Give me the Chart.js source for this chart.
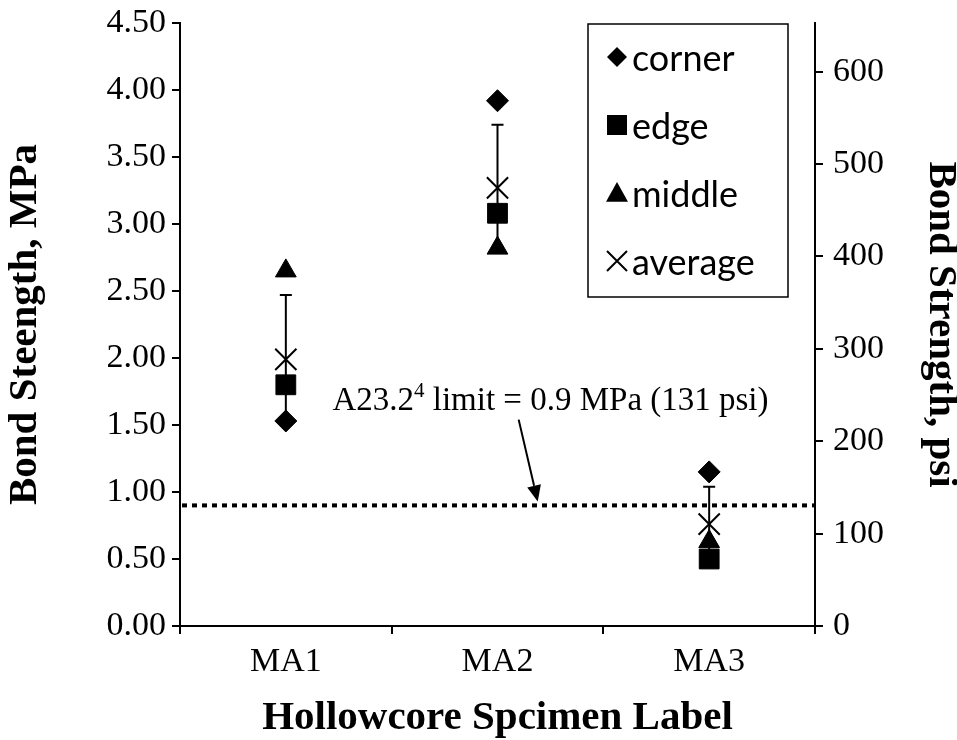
<!DOCTYPE html>
<html>
<head>
<meta charset="utf-8">
<script src="https://cdn.jsdelivr.net/npm/chart.js@4.4.0/dist/chart.umd.min.js"></script>
<style>
  html, body { margin: 0; padding: 0; background: #fff; }
</style>
</head>
<body>
<canvas id="bondChart" width="957" height="740"></canvas>
<script>
// values (MPa)
const specimens = ['MA1', 'MA2', 'MA3'];
const corner = [1.53, 3.92, 1.15];
const edge = [1.80, 3.08, 0.50];
const middle = [2.65, 2.82, 0.63];
const average = [1.99, 3.27, 0.76];
const stdDev = [0.48, 0.47, 0.28];
const limitMPa = 0.9;
const MPA_TO_PSI = 145.04;
const mpaMax = 4.5;
const mpaStep = 0.5;
const psiStep = 100;

const serif = "'Times New Roman', 'Liberation Serif', serif";
const sans = "Lato, 'Open Sans', sans-serif";

// error bars + 0.9 MPa dotted limit line, under the markers
const underlay = {
  id: 'underlay',
  beforeDatasetsDraw(chart) {
    const { ctx, chartArea, scales: { x, y } } = chart;
    ctx.save();
    const ly = y.getPixelForValue(limitMPa);
    ctx.strokeStyle = '#000';
    ctx.lineWidth = 4;
    ctx.setLineDash([5, 5]);
    ctx.beginPath();
    ctx.moveTo(chartArea.left + 2, ly);
    ctx.lineTo(chartArea.right, ly);
    ctx.stroke();
    ctx.setLineDash([]);
    ctx.lineWidth = 2;
    average.forEach((v, i) => {
      const px = x.getPixelForValue(i);
      const top = y.getPixelForValue(v + stdDev[i]);
      const bot = y.getPixelForValue(v - stdDev[i]);
      ctx.beginPath();
      ctx.moveTo(px, top); ctx.lineTo(px, bot);
      ctx.moveTo(px - 6, top); ctx.lineTo(px + 6, top);
      ctx.moveTo(px - 6, bot); ctx.lineTo(px + 6, bot);
      ctx.stroke();
    });
    ctx.restore();
  }
};

// annotation text, arrow and the boxed legend
const overlay = {
  id: 'overlay',
  afterDraw(chart) {
    const { ctx, chartArea, scales: { x, y } } = chart;
    ctx.save();
    ctx.fillStyle = '#000';
    ctx.strokeStyle = '#000';
    ctx.textBaseline = 'alphabetic';

    // annotation
    const tx = x.getPixelForValue(0.22);
    const ty = y.getPixelForValue(1.61);
    ctx.font = '33px ' + serif;
    let cx = tx;
    ctx.fillText('A23.2', cx, ty);
    cx += ctx.measureText('A23.2').width;
    ctx.font = '21px ' + serif;
    ctx.fillText('4', cx, ty - 13);
    cx += ctx.measureText('4').width;
    ctx.font = '33px ' + serif;
    ctx.fillText(' limit = 0.9 MPa (131 psi)', cx, ty);

    // arrow
    const ax0 = x.getPixelForValue(1.10), ay0 = y.getPixelForValue(1.54);
    const ax1 = x.getPixelForValue(1.19), ay1 = y.getPixelForValue(0.93);
    const ang = Math.atan2(ay1 - ay0, ax1 - ax0);
    const head = 16, half = 7;
    const bx = ax1 - head * Math.cos(ang), by = ay1 - head * Math.sin(ang);
    ctx.lineWidth = 2;
    ctx.beginPath();
    ctx.moveTo(ax0, ay0); ctx.lineTo(bx, by);
    ctx.stroke();
    ctx.beginPath();
    ctx.moveTo(ax1, ay1);
    ctx.lineTo(bx + half * Math.sin(ang), by - half * Math.cos(ang));
    ctx.lineTo(bx - half * Math.sin(ang), by + half * Math.cos(ang));
    ctx.closePath();
    ctx.fill();

    // legend box
    const bxL = chartArea.right - 227, byT = chartArea.top + 1;
    ctx.lineWidth = 1.5;
    ctx.strokeRect(bxL, byT, 200, 273);
    ctx.font = '36px ' + sans;
    ctx.textBaseline = 'middle';
    const mx = bxL + 29, txl = bxL + 44;
    chart.data.datasets.forEach((ds, i) => {
      const iy = byT + 33 + i * 68;
      ctx.lineWidth = ds.pointBorderWidth;
      const r = ds.legendRadius;
      ctx.beginPath();
      if (ds.pointStyle === 'rectRot') {
        ctx.moveTo(mx - r, iy); ctx.lineTo(mx, iy - r); ctx.lineTo(mx + r, iy); ctx.lineTo(mx, iy + r);
        ctx.closePath(); ctx.fill();
      } else if (ds.pointStyle === 'rect') {
        ctx.rect(mx - r, iy - r, 2 * r, 2 * r); ctx.fill();
      } else if (ds.pointStyle === 'triangle') {
        ctx.moveTo(mx, iy - r); ctx.lineTo(mx + r, iy + r * 0.8); ctx.lineTo(mx - r, iy + r * 0.8);
        ctx.closePath(); ctx.fill();
      } else {
        ctx.moveTo(mx - r, iy - r); ctx.lineTo(mx + r, iy + r);
        ctx.moveTo(mx + r, iy - r); ctx.lineTo(mx - r, iy + r);
        ctx.stroke();
      }
      ctx.fillText(ds.label, txl, iy + 2);
    });
    ctx.restore();
  }
};

const tickFont = { family: serif, size: 34 };
const titleFont = { family: serif, size: 41, weight: 'bold', lineHeight: 1 };

// keep the plot box fixed regardless of label overhang
function fixVertical(width) {
  return scale => {
    scale.width = width;
    scale.paddingTop = 0;
    scale.paddingBottom = 0;
  };
}

new Chart(document.getElementById('bondChart'), {
  type: 'line',
  data: {
    labels: specimens,
    datasets: [
      { label: 'corner', data: corner, pointStyle: 'rectRot', pointRadius: 11, legendRadius: 10 },
      { label: 'edge', data: edge, pointStyle: 'rect', pointRadius: 14, legendRadius: 10 },
      { label: 'middle', data: middle, pointStyle: 'triangle', pointRadius: 12, legendRadius: 11 },
      { label: 'average', data: average, pointStyle: 'crossRot', pointRadius: 15, legendRadius: 10, pointBorderWidth: 2 }
    ].map(ds => Object.assign({
      showLine: false,
      pointBackgroundColor: '#000',
      pointBorderColor: '#000',
      pointBorderWidth: 1,
      yAxisID: 'y'
    }, ds))
  },
  options: {
    responsive: false,
    animation: false,
    events: [],
    layout: { padding: { top: 23, left: 0, right: 0, bottom: 0 } },
    plugins: { legend: { display: false }, tooltip: { enabled: false } },
    scales: {
      x: {
        type: 'category',
        offset: true,
        grid: { offset: true, drawOnChartArea: false, drawTicks: true, tickLength: 8, color: '#000', lineWidth: 2 },
        border: { color: '#000', width: 2 },
        ticks: { font: tickFont, color: '#000', padding: 8 },
        title: { display: true, text: 'Hollowcore Spcimen Label', font: titleFont, color: '#000', padding: 1 },
        afterFit(scale) { scale.height = 114; scale.paddingLeft = 0; scale.paddingRight = 0; }
      },
      y: {
        position: 'left',
        min: 0,
        max: mpaMax,
        grid: { drawOnChartArea: false, drawTicks: true, tickLength: 8, color: '#000', lineWidth: 2 },
        border: { color: '#000', width: 2 },
        ticks: { stepSize: mpaStep, font: tickFont, color: '#000', padding: 6, callback: v => v.toFixed(2) },
        title: { display: true, text: 'Bond Steength, MPa', font: titleFont, color: '#000', padding: 5 },
        afterFit: fixVertical(180)
      },
      y2: {
        position: 'right',
        min: 0,
        max: mpaMax * MPA_TO_PSI,
        grid: { drawOnChartArea: false, drawTicks: true, tickLength: 8, color: '#000', lineWidth: 2 },
        border: { color: '#000', width: 2 },
        ticks: { stepSize: psiStep, includeBounds: false, font: tickFont, color: '#000', padding: 10, callback: v => v },
        title: { display: true, text: 'Bond Strength, psi', font: titleFont, color: '#000', padding: -4 },
        afterFit: fixVertical(142)
      }
    }
  },
  plugins: [underlay, overlay]
});
</script>
</body>
</html>
